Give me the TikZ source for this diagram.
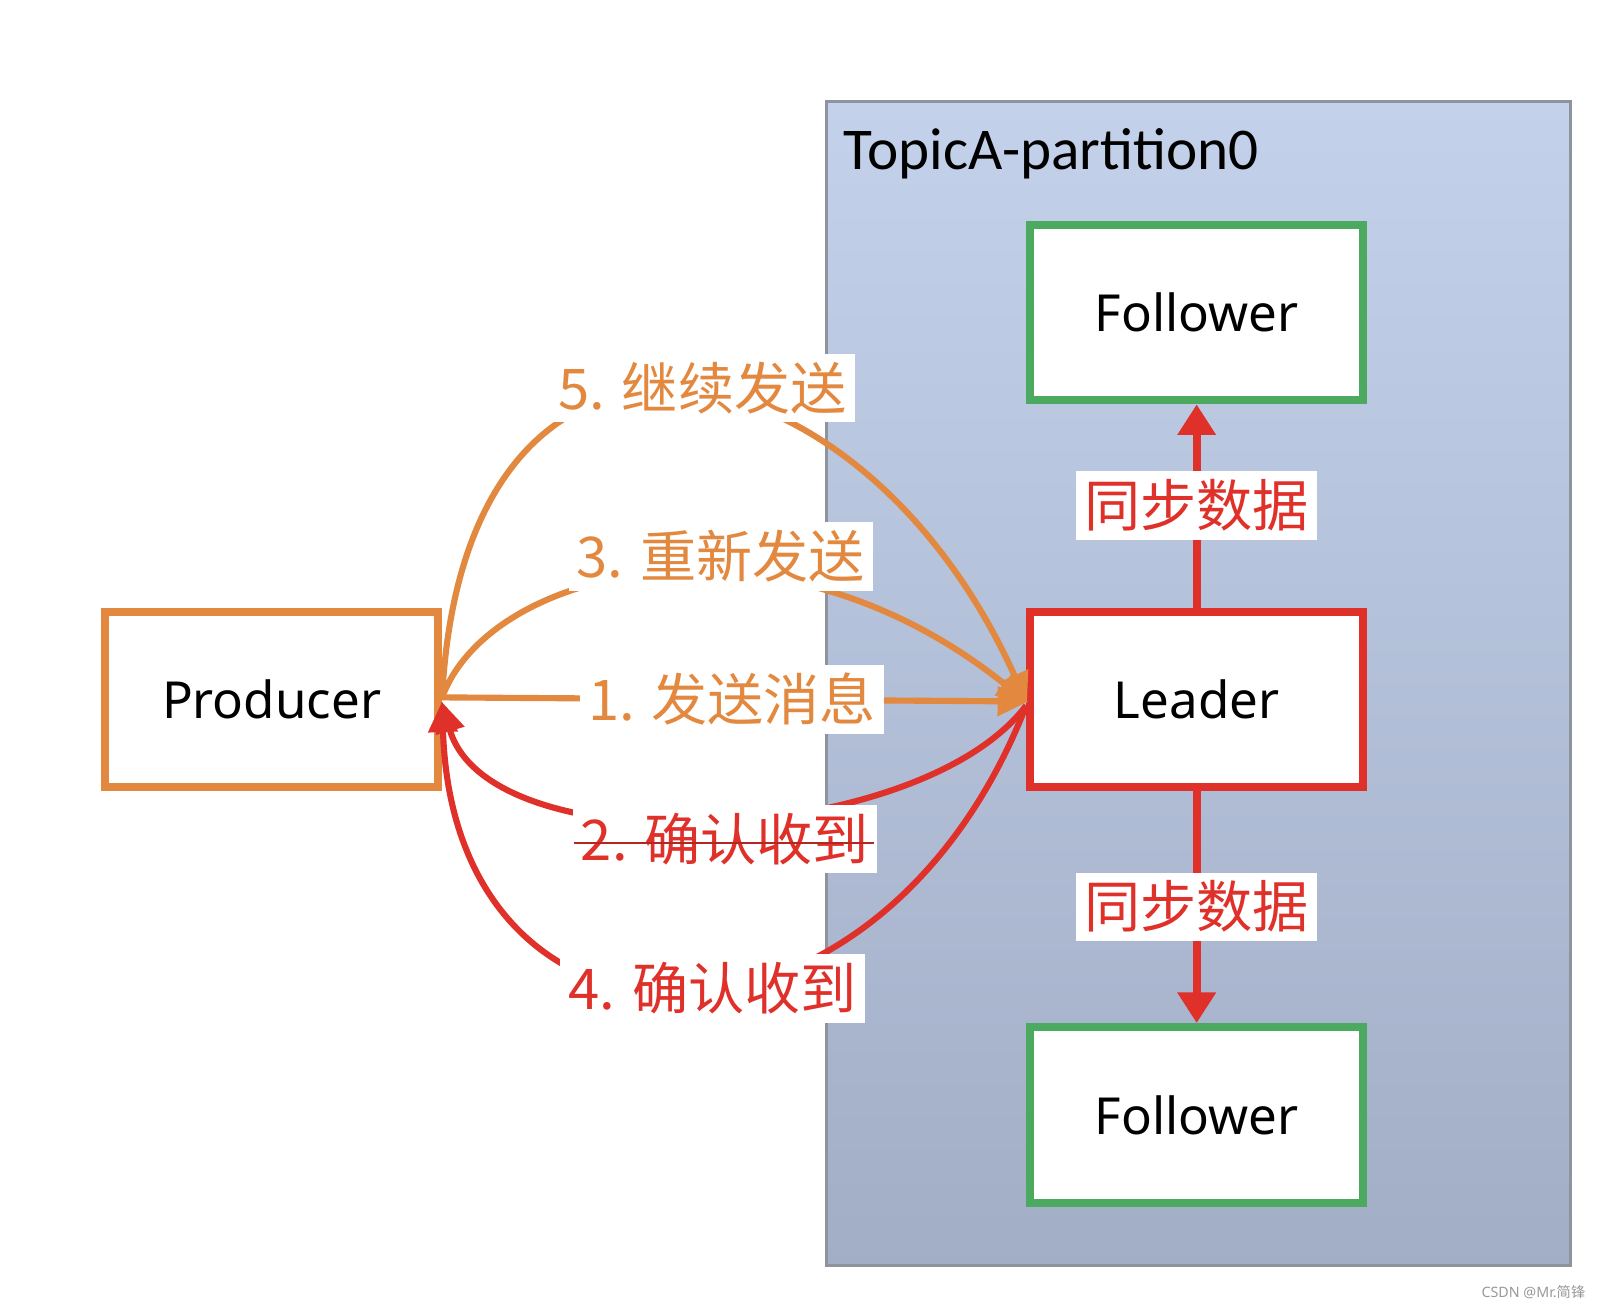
\documentclass[tikz,border=0pt]{standalone}
\usepackage{fontspec}
\setmainfont{Noto Sans}
\newfontfamily\cjk{Noto Sans CJK SC}
\newfontfamily\titlefont{Carlito}
\usetikzlibrary{arrows.meta}
\definecolor{orng}{HTML}{E3883F}
\definecolor{rd}{HTML}{E0302A}
\definecolor{grn}{HTML}{4BAA5F}
\definecolor{bluetop}{HTML}{C3D1EA}
\definecolor{bluebot}{HTML}{A2AEC6}
\definecolor{framegray}{HTML}{8E949E}
\tikzset{
  box/.style={draw, line width=4pt, fill=white, minimum width=163pt, minimum height=86pt, inner sep=0pt,
    font=\fontsize{25}{25}\selectfont},
  lbl/.style={fill=white, inner sep=4pt, font=\cjk\fontsize{27.5}{28}\selectfont},
  oarrow/.style={draw=orng, line width=3pt, -{Triangle[length=15pt,width=14pt]}, shorten >=-1pt},
  rarrow/.style={draw=rd, line width=3pt, -{Triangle[length=15pt,width=14pt]}, shorten >=-1pt},
  varrow/.style={draw=rd, line width=4pt, -{Triangle[length=15pt,width=18pt]}}
}
\begin{document}
\begin{tikzpicture}[x=0.5pt,y=-0.5pt]
\useasboundingbox (0,0) rectangle (1568,1280);
\fill[white] (0,0) rectangle (1568,1280);
% container
\node[draw=framegray, line width=1.5pt, top color=bluetop, bottom color=bluebot,
  minimum width=364.5pt, minimum height=570pt, anchor=north west, inner sep=0pt] (topic) at (808,98) {};
\node[anchor=base west, inner sep=0pt, font=\titlefont\fontsize{29}{29}\selectfont] (title) at (826,166) {TopicA-partition0};
% boxes
\node[box, draw=orng] (P) at (266,685) {Producer};
\node[box, draw=grn] (F1) at (1172,306) {Follower};
\node[box, draw=rd] (L) at (1172,685) {Leader};
\node[box, draw=grn] (F2) at (1172,1092) {Follower};
% vertical sync arrows
\draw[varrow] (L.north) -- (F1.south);
\draw[varrow] (L.south) -- (F2.north);
% orange send arrows
\coordinate (ps) at ([yshift=1pt]P.east);
\coordinate (le) at ([yshift=-1pt]L.west);
\draw[oarrow] (ps) -- (le);
\draw[oarrow] (ps) .. controls (480,555) and (760,490) .. (le);
\draw[oarrow] (ps) .. controls (455,250) and (840,320) .. (le);
% red ack arrows
\coordinate (lr) at ([yshift=-3pt]L.west);
\coordinate (pr) at ([yshift=-2pt]P.east);
\draw[rarrow] (lr) .. controls (900,830) and (480,850) .. (pr);
\draw[rarrow] (lr) .. controls (860,1063) and (445,1063) .. (pr);
% labels
\node[lbl, text=orng] (l5) at (688,380) {5. 继续发送};
\node[lbl, text=orng] (l3) at (706,545) {3. 重新发送};
\node[lbl, text=orng] (l1) at (717,685) {1. 发送消息};
\node[lbl, text=rd] (l2) at (710,822) {2. 确认收到};
\node[lbl, text=rd] (l4) at (698,968) {4. 确认收到};
\node[lbl, text=rd] (s1) at (1172,495) {同步数据};
\node[lbl, text=rd] (s2) at (1172,888) {同步数据};
% strike line seen through label 2
\draw[rd!80!black, line width=0.9pt] ([xshift=1pt,yshift=-2pt]l2.west) -- ([xshift=-2pt,yshift=-2pt]l2.east);
% watermark
\node[anchor=east, inner sep=0pt, text=gray!80, font=\fontsize{7}{8}\selectfont] (wm) at (1553,1265) {CSDN @Mr.{\cjk 简锋}};
\end{tikzpicture}
\end{document}
